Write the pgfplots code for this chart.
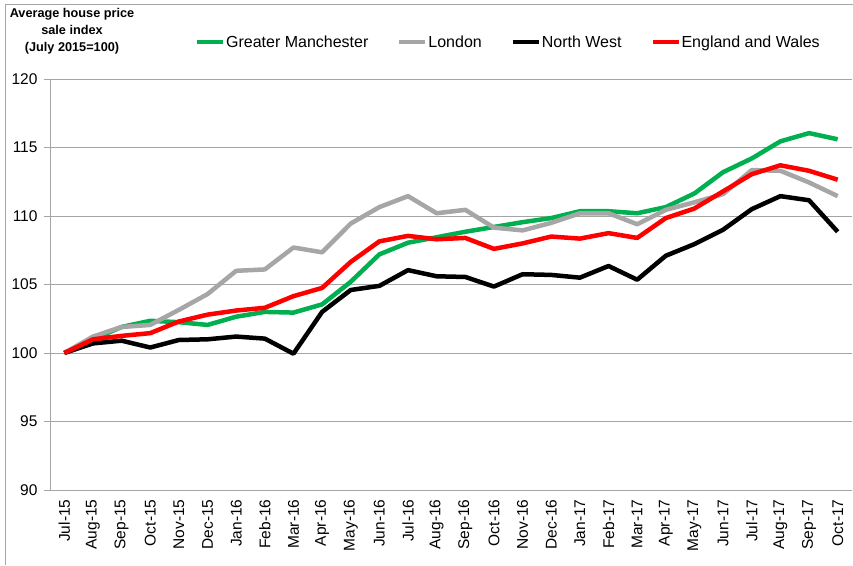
\documentclass[border=0pt]{standalone}
\usepackage{fontspec}
\setmainfont{Liberation Sans}
\usepackage{pgfplots}
\pgfplotsset{compat=1.18}
\usepackage{pgfplotstable}
\definecolor{gmgreen}{RGB}{0,176,80}
\definecolor{ldngray}{RGB}{166,166,166}
\definecolor{gridgray}{RGB}{165,165,165}
\pgfplotstableread{
x GM LDN NW EW
0 100 100 100 100
1 101.0 101.2 100.7 101.0
2 101.9 101.9 100.9 101.25
3 102.35 102.05 100.4 101.45
4 102.25 103.15 100.95 102.3
5 102.05 104.3 101.0 102.8
6 102.65 106.0 101.2 103.1
7 103.0 106.1 101.05 103.3
8 102.95 107.7 99.95 104.15
9 103.55 107.35 103.0 104.75
10 105.2 109.45 104.6 106.65
11 107.2 110.65 104.9 108.15
12 108.05 111.45 106.05 108.55
13 108.45 110.2 105.6 108.3
14 108.85 110.45 105.55 108.4
15 109.2 109.15 104.85 107.6
16 109.55 108.95 105.75 108.0
17 109.85 109.5 105.7 108.5
18 110.35 110.2 105.5 108.35
19 110.35 110.2 106.35 108.75
20 110.2 109.4 105.35 108.4
21 110.65 110.45 107.1 109.85
22 111.65 111.0 107.95 110.55
23 113.2 111.6 109.0 111.8
24 114.2 113.35 110.5 113.05
25 115.45 113.3 111.45 113.7
26 116.05 112.45 111.15 113.3
27 115.6 111.45 108.85 112.65
}\datatable
\begin{document}
\begin{tikzpicture}
\path[use as bounding box] (0,0) rectangle (853pt,-565pt);
\draw[gridgray, line width=0.8pt] (5pt,-565pt) -- (5pt,-4pt) -- (853pt,-4pt);
\node[align=center, font=\fontsize{12.7}{17}\selectfont\bfseries, inner sep=0pt] at (72pt,-31pt) {Average house price\\sale index\\(July 2015=100)};
\begin{axis}[
  at={(50pt,-490pt)}, anchor=south west,
  scale only axis, width=802pt, height=411pt,
  xmin=-0.5, xmax=27.5, ymin=90, ymax=120,
  ytick={90,95,...,120},
  xtick={0,...,27},
  xticklabels={Jul-15,Aug-15,Sep-15,Oct-15,Nov-15,Dec-15,Jan-16,Feb-16,Mar-16,Apr-16,May-16,Jun-16,Jul-16,Aug-16,Sep-16,Oct-16,Nov-16,Dec-16,Jan-17,Feb-17,Mar-17,Apr-17,May-17,Jun-17,Jul-17,Aug-17,Sep-17,Oct-17},
  minor xtick={-0.5,0.5,...,27.5},
  axis x line*=bottom, axis y line*=left,
  axis line style={gridgray, line width=0.8pt},
  tick align=outside,
  major tick length=6pt, minor tick length=6pt,
  xtick style={draw=none},
  minor x tick style={gridgray, line width=0.8pt},
  ytick style={gridgray, line width=0.8pt},
  ymajorgrids, grid style={gridgray, line width=0.8pt},
  /pgf/number format/assume math mode=true,
  ticklabel style={font=\fontsize{15.5}{18}\selectfont},
  xticklabel style={rotate=90, anchor=east},
  yticklabel style={xshift=-3pt},
  legend columns=4,
  legend style={draw=none, fill=none, at={(0.177,1.09)}, anchor=west,
    font=\fontsize{16}{19}\selectfont,
    nodes={inner sep=1pt},
    /tikz/every even column/.append style={column sep=28pt}},
  legend image code/.code={\draw[#1, line width=4pt] (0pt,0pt) -- (26pt,0pt);},
  every axis plot/.append style={line width=4.5pt, line join=round, mark=none},
]
\addplot[gmgreen] table[x=x, y=GM] {\datatable};
\addlegendentry{Greater Manchester}
\addplot[ldngray] table[x=x, y=LDN] {\datatable};
\addlegendentry{London}
\addplot[black] table[x=x, y=NW] {\datatable};
\addlegendentry{North West}
\addplot[red] table[x=x, y=EW] {\datatable};
\addlegendentry{England and Wales}
\end{axis}
\end{tikzpicture}
\end{document}
